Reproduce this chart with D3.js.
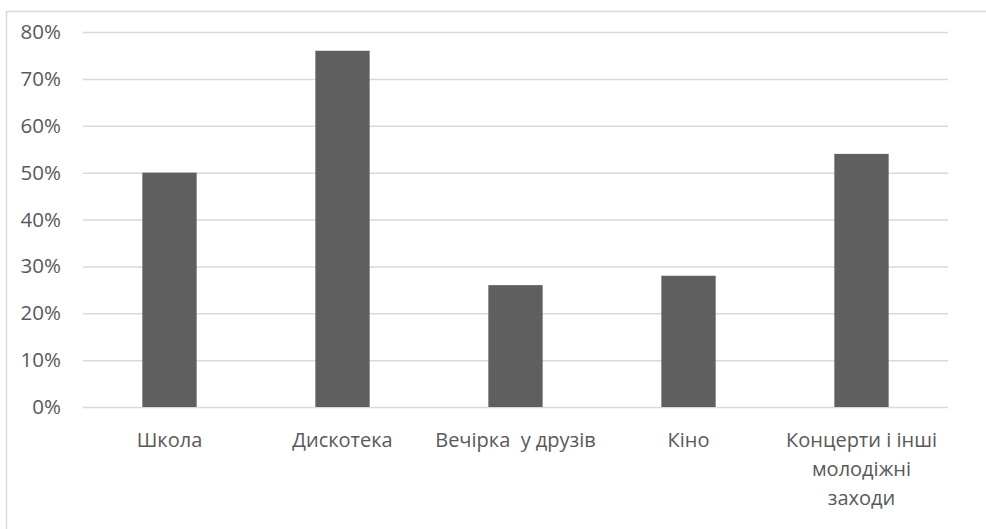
<!DOCTYPE html>
<html>
<head>
<meta charset="utf-8">
<script src="https://cdn.jsdelivr.net/npm/d3@7"></script>
<style>
  body { margin: 0; background: #fff; }
  text { font-family: "Open Sans", sans-serif; fill: #595959; }
</style>
</head>
<body>
<div id="chart"></div>
<script>
var categories = ['Школа', 'Дискотека', 'Вечірка  у друзів', 'Кіно', 'Концерти і інші молодіжні заходи']
var values = [0.50, 0.76, 0.26, 0.28, 0.54]
var ticks = [0, 0.1, 0.2, 0.3, 0.4, 0.5, 0.6, 0.7, 0.8]

var width = 986,
	height = 529,
	margins = {top: 32, right: 38, bottom: 122, left: 83},
	inner_w = width - margins.left - margins.right,
	inner_h = height - margins.top - margins.bottom

var svg = d3.select('#chart').append('svg')
	.attr('width', width)
	.attr('height', height)

// chart area frame, cut off at right and bottom like the source
svg.append('rect')
	.attr('x', 6.5)
	.attr('y', 11.5)
	.attr('width', 1000)
	.attr('height', 600)
	.attr('fill', 'none')
	.attr('stroke', '#d9d9d9')
	.attr('stroke-width', 1.5)

var g = svg.append('g')
	.attr('transform', 'translate(' + margins.left + ',' + margins.top + ')')

var x = d3.scaleBand()
	.domain(categories)
	.range([0, inner_w])
	.paddingInner(0.686)
	.paddingOuter(0.343)

var y = d3.scaleLinear()
	.domain([0, 0.8])
	.range([inner_h, 0])

// gridlines
g.append('g')
	.call(d3.axisLeft(y).tickValues(ticks).tickSize(-inner_w).tickFormat(''))
	.call(function(s) {
		s.select('.domain').remove()
		s.selectAll('line').attr('stroke', '#d9d9d9').attr('stroke-width', 1.5)
	})

// y labels
g.append('g')
	.call(d3.axisLeft(y).tickValues(ticks).tickSize(0).tickPadding(22).tickFormat(d3.format('.0%')))
	.call(function(s) {
		s.select('.domain').remove()
		s.selectAll('text').attr('font-size', 20.5).style('fill', '#595959')
	})

g.selectAll('.bar')
	.data(values)
	.enter().append('rect')
	.attr('class', 'bar')
	.attr('x', function(d, i) { return x(categories[i]) })
	.attr('width', x.bandwidth())
	.attr('y', function(d) { return y(d) })
	.attr('height', function(d) { return inner_h - y(d) })
	.attr('fill', '#5f5f5f')

// x labels with wrapping
var xa = g.append('g')
	.attr('transform', 'translate(0,' + inner_h + ')')
	.call(d3.axisBottom(x).tickSize(0).tickPadding(0))
xa.select('.domain').remove()
xa.selectAll('text').remove()

var step = x.step()
xa.selectAll('.tick').each(function(d) {
	var t = d3.select(this).append('text')
		.attr('text-anchor', 'middle')
		.attr('font-size', 20)
		.attr('y', 40)
		.style('white-space', 'pre')
	var words = d.split(' '), line = [], lines = []
	var probe = t.append('tspan')
	words.forEach(function(w) {
		var test = line.concat([w]).join(' ')
		probe.text(test)
		if (probe.node().getComputedTextLength() > step - 6 && line.length) {
			lines.push(line.join(' '))
			line = [w]
		} else {
			line.push(w)
		}
	})
	lines.push(line.join(' '))
	probe.remove()
	lines.forEach(function(l, i) {
		t.append('tspan').attr('x', 0).attr('dy', i ? 29 : 0).text(l)
	})
})
</script>
</body>
</html>
